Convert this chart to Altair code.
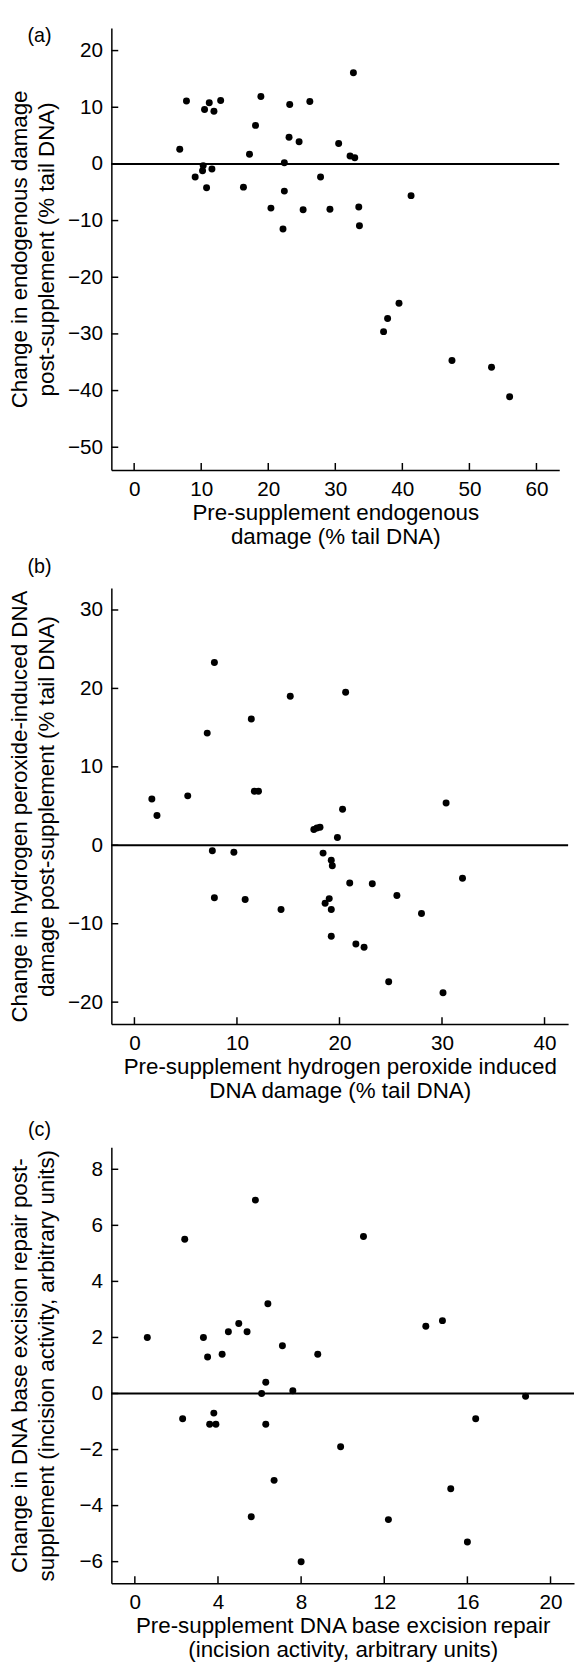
import altair as alt
import pandas as pd

FONT = "Liberation Sans"

# Panel (a)
A_x = [6.8, 7.8, 9.1, 10.3, 10.2, 10.5, 10.8, 11.2, 11.6, 11.9, 12.9, 16.3, 17.2, 18.1, 18.9,
       20.4, 22.2, 22.4, 22.4, 23.1, 23.2, 24.6, 25.2, 26.2, 27.8, 29.2, 30.5, 32.2, 32.7, 32.9,
       33.5, 33.6, 41.3, 37.2, 37.8, 39.5, 47.4, 53.3, 56.0]
A_y = [2.6, 11.1, -2.3, -0.3, -1.2, 9.6, -4.2, 10.8, -0.9, 9.3, 11.2, -4.1, 1.7, 6.8, 11.9,
       -7.8, -11.5, 0.2, -4.8, 4.7, 10.5, 3.9, -8.1, 11.0, -2.3, -8.0, 3.6, 1.4, 16.1, 1.1,
       -7.6, -10.9, -5.6, -29.6, -27.3, -24.6, -34.7, -35.9, -41.1]
A_xticks = [0, 10, 20, 30, 40, 50, 60]
A_yticks = [-50, -40, -30, -20, -10, 0, 10, 20]

# Panel (b)
B_x = [1.7, 2.2, 5.2, 7.1, 7.8, 11.4, 11.7, 12.1, 15.2, 20.6, 20.3, 30.4, 17.5, 17.8, 18.1,
       19.8, 7.6, 9.7, 18.4, 19.2, 19.3, 21.0, 23.2, 32.0, 7.8, 10.8, 14.3, 19.0, 18.6, 19.2,
       25.6, 28.0, 19.2, 21.6, 22.4, 24.8, 30.1]
B_y = [5.9, 3.8, 6.3, 14.3, 23.3, 16.1, 6.9, 6.9, 19.0, 19.5, 4.6, 5.4, 2.0, 2.2, 2.3,
       1.0, -0.7, -0.9, -1.0, -1.9, -2.6, -4.8, -4.9, -4.2, -6.7, -6.9, -8.2, -6.8, -7.4, -8.2,
       -6.4, -8.7, -11.6, -12.6, -13.0, -17.4, -18.8]
B_xticks = [0, 10, 20, 30, 40]
B_yticks = [-20, -10, 0, 10, 20, 30]

# Panel (c)
C_x = [0.6, 2.4, 3.3, 3.5, 4.2, 4.5, 5.0, 5.4, 5.8, 6.4, 7.1, 8.8, 11.0, 14.0, 14.8, 6.3,
       6.1, 7.6, 18.8, 2.3, 3.6, 3.9, 3.8, 6.3, 16.4, 9.9, 6.7, 15.2, 5.6, 12.2, 16.0, 8.0]
C_y = [2.0, 5.5, 2.0, 1.3, 1.4, 2.2, 2.5, 2.2, 6.9, 3.2, 1.7, 1.4, 5.6, 2.4, 2.6, 0.4,
       0.0, 0.1, -0.1, -0.9, -1.1, -1.1, -0.7, -1.1, -0.9, -1.9, -3.1, -3.4, -4.4, -4.5, -5.3, -6.0]
C_xticks = [0, 4, 8, 12, 16, 20]
C_yticks = [-6, -4, -2, 0, 2, 4, 6, 8]


def panel(xs, ys, xdom, ydom, xticks, yticks, w, h, xtitle, ytitle, label, label_y):
    X = alt.X("x:Q",
              scale=alt.Scale(domain=xdom, nice=False, zero=False),
              axis=alt.Axis(values=xticks, ticks=False, grid=False, title=xtitle,
                            labelPadding=9, titleY=50, titleBaseline="alphabetic",
                            titleLineHeight=24.5))
    Y = alt.Y("y:Q",
              scale=alt.Scale(domain=ydom, nice=False, zero=False),
              axis=alt.Axis(values=yticks, ticks=False, grid=False, title=ytitle,
                            labelPadding=9, titleAngle=270, titleX=-86.5, titleY=h / 2,
                            titleAlign="center", titleBaseline="alphabetic",
                            titleLineHeight=28))
    pts = alt.Chart(pd.DataFrame({"x": xs, "y": ys})).mark_circle(
        size=50, color="black", opacity=1).encode(x=X, y=Y)
    zero = alt.Chart(pd.DataFrame({"y": [0]})).mark_rule(
        color="black", strokeWidth=2).encode(y=Y)
    xt = alt.Chart(pd.DataFrame({"x": xticks})).mark_rule(
        color="black", strokeWidth=1.5).encode(x=X, y=alt.value(h), y2=alt.value(h - 7))
    yt = alt.Chart(pd.DataFrame({"y": yticks})).mark_rule(
        color="black", strokeWidth=1.5).encode(y=Y, x=alt.value(0), x2=alt.value(7))
    lab = alt.Chart(pd.DataFrame({"t": [label]})).mark_text(
        font=FONT, fontSize=20, align="center", baseline="alphabetic", color="black"
    ).encode(x=alt.value(-73), y=alt.value(label_y), text="t:N")
    return alt.layer(pts, zero, xt, yt, lab).properties(width=w, height=h)


pa = panel(A_x, A_y, [-3.4, 63.4], [-54, 24], A_xticks, A_yticks, 455, 449,
           ["Pre-supplement endogenous", "damage (% tail DNA)"],
           ["Change in endogenous damage", "post-supplement (% tail DNA)"],
           "(a)", 14.7)
pb = panel(B_x, B_y, [-2.25, 42.3], [-22.8, 32.8], B_xticks, B_yticks, 464, 443,
           ["Pre-supplement hydrogen peroxide induced", "DNA damage (% tail DNA)"],
           ["Change in hydrogen peroxide-induced DNA", "damage post-supplement (% tail DNA)"],
           "(b)", -15)
pc = panel(C_x, C_y, [-1.13, 21.13], [-6.77, 8.79], C_xticks, C_yticks, 470, 443,
           ["Pre-supplement DNA base excision repair", "(incision activity, arbitrary units)"],
           ["Change in DNA base excision repair post-",
            "supplement (incision activity, arbitrary units)"],
           "(c)", -11)

chart = alt.vconcat(alt.vconcat(pa, pb, spacing=9), pc, spacing=18).configure(
    padding={"left": 0, "top": 5, "right": 0, "bottom": 0},
    background="white",
).configure_view(stroke=None).configure_axis(
    domainColor="black", domainWidth=1.5, labelFont=FONT, labelFontSize=21,
    labelColor="black", titleFont=FONT, titleFontSize=22.7, titleFontWeight="normal",
    titleColor="black", grid=False,
)

chart.save("out.html", embed_options={"renderer": "svg", "actions": False})
